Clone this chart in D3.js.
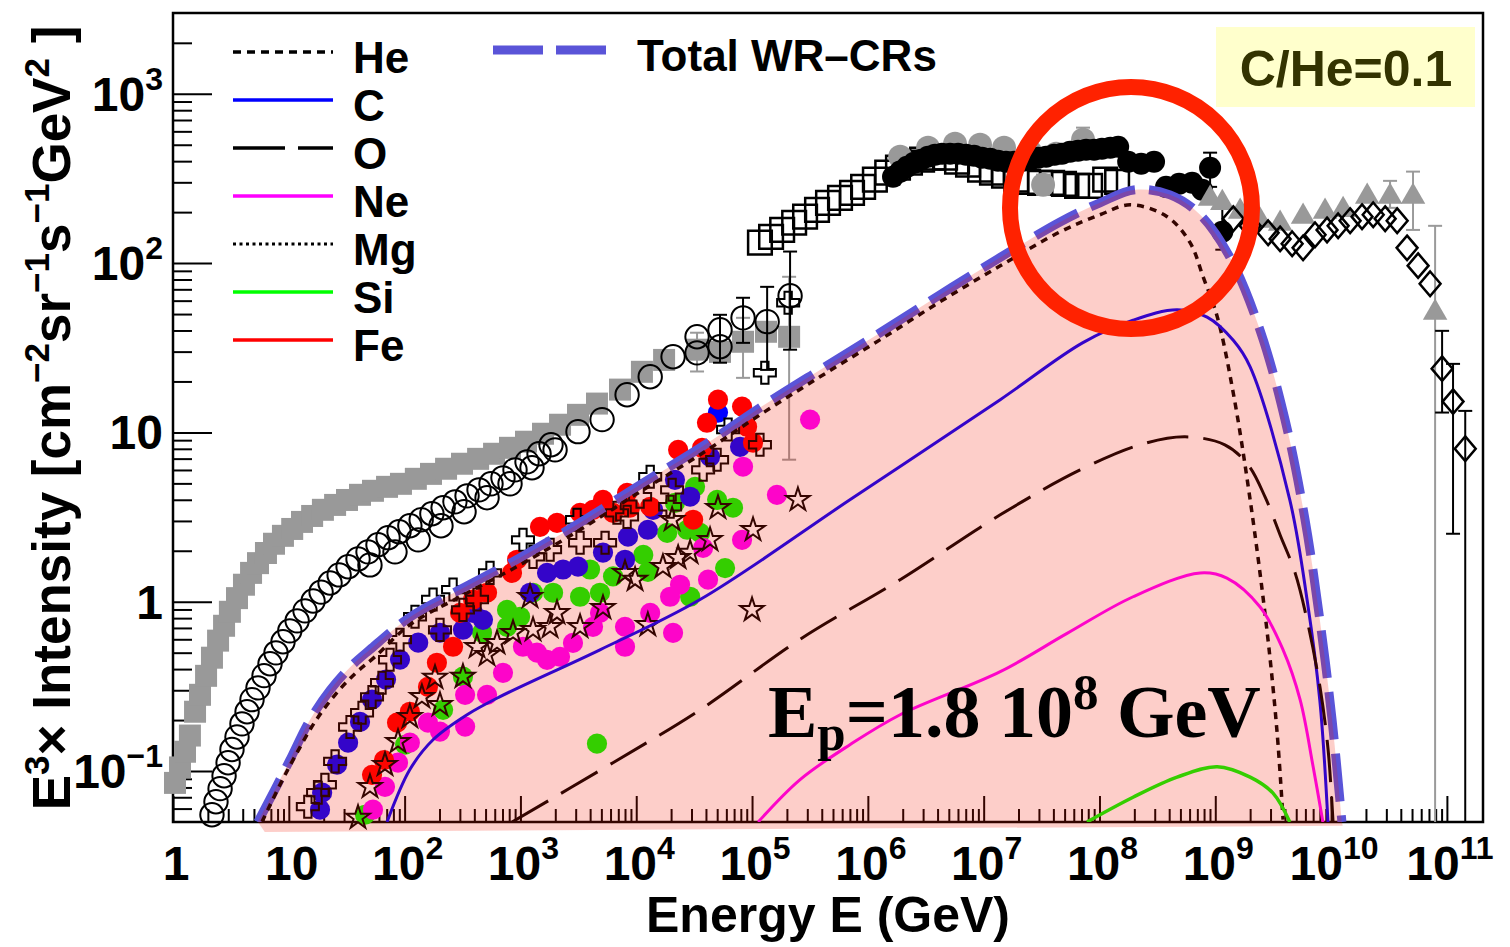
<!DOCTYPE html>
<html>
<head>
<meta charset="utf-8">
<script src="https://cdn.jsdelivr.net/npm/d3@7"></script>
<style>
  body { margin: 0; background: #fff; }
  text { white-space: pre; }
</style>
</head>
<body>
<svg id="chart" width="1510" height="947"></svg>
<script>
// ---------- model curves: [energy GeV, E^3 x intensity] ----------
const totalCurve = [[5.41,0.05],[7.6,0.078],[10.2,0.116],[15.2,0.20],[22.7,0.30],[33.8,0.41],[50,0.52],[111,0.81],[301,1.18],[993,1.82],[3270,2.93],[1.08e4,4.91],[3.56e4,8.1],[1.17e5,14.0],[3.86e5,23.4],[1.27e6,38.7],[4.2e6,65],[1.39e7,108],[4.57e7,175],[1.01e8,227],[2.03e8,271],[4.07e8,253],[7.4e8,193],[1.34e9,108],[2.44e9,40],[4.0e9,11.9],[5.96e9,3.05],[8.0e9,0.78],[1.02e10,0.20],[1.24e10,0.05]];
const fillBase = [[1.26e10,0.0475],[6.2,0.0437]];
const heCurve = [[5.87,0.0501],[8.4,0.083],[11.3,0.122],[16.8,0.195],[25.1,0.282],[37.3,0.376],[55.5,0.473],[111,0.731],[301,1.07],[993,1.65],[3270,2.66],[1.08e4,4.46],[3.56e4,7.38],[1.17e5,12.7],[3.86e5,21.3],[1.27e6,35.2],[4.2e6,59.1],[1.39e7,96.4],[4.57e7,153],[1.01e8,193],[1.84e8,221],[3.84e8,188],[6.06e8,132],[7.85e8,83],[1.04e9,48.2],[1.43e9,17.1],[2.0e9,4.0],[2.81e9,0.655],[3.42e9,0.168],[3.85e9,0.0516]];
const carbonCurve = [[70.5,0.05],[111,0.102],[176,0.153],[346,0.215],[667,0.275],[4860,0.52],[3.56e4,1.03],[7.0e5,4.0],[1.39e7,15.6],[7.2e7,33.9],[1.95e8,46],[4.68e8,53],[8.5e8,48],[1.43e9,35],[2.0e9,24.4],[4.4e9,4.0],[6.2e9,1.03],[8.0e9,0.26],[9.4e9,0.05]];
const oxygenCurve = [[846,0.05],[6300,0.112],[3.56e4,0.23],[2.6e5,0.60],[1.9e6,1.35],[1.39e7,3.26],[6.8e7,6.0],[2.24e8,8.45],[5.48e8,9.42],[1.21e9,8.45],[1.92e9,6.43],[2.69e9,4.16],[3.63e9,2.48],[4.89e9,1.48],[6.33e9,0.731],[8.04e9,0.31],[9.42e9,0.134],[1.04e10,0.05]];
const neonCurve = [[1.13e5,0.05],[2.6e5,0.089],[7.0e5,0.143],[1.9e6,0.215],[1.39e7,0.386],[5.25e7,0.65],[1.95e8,1.07],[7.4e8,1.48],[1.26e9,1.38],[2.44e9,0.93],[3.85e9,0.52],[5.4e9,0.264],[7.0e9,0.106],[8.5e9,0.05]];
const siliconCurve = [[7.8e7,0.05],[1.95e8,0.070],[4.68e8,0.092],[1.04e9,0.106],[2.0e9,0.092],[3.15e9,0.074],[4.4e9,0.05]];

// ---------- measurements: [energy GeV, E^3 x intensity] ----------
const grayBoxes = [[1.04,0.0851],[1.15,0.105],[1.27,0.130],[1.40,0.162],[1.55,0.224],[1.71,0.282],[1.93,0.365],[2.17,0.467],[2.45,0.589],[2.76,0.721],[3.10,0.872],[3.57,1.05],[4.10,1.26],[4.72,1.48],[5.42,1.69],[6.35,1.94],[7.45,2.20],[8.9,2.45],[10.7,2.69],[13.0,2.96],[15.9,3.21],[19.7,3.49],[25.1,3.73],[31.8,3.99],[41.2,4.28],[53.3,4.52],[70.5,4.77],[93,4.97],[125,5.32],[169,5.69],[228,6.10],[313,6.53],[431,6.98],[592,7.48],[813,8.11],[1117,8.81],[1567,9.82],[2198,11.1],[3141,12.7],[4581,14.8],[7244,17.9],[1.12e4,22.8],[1.74e4,26.8],[3.35e4,30.8],[5.29e4,29.9],[8.36e4,34.3],[1.32e5,39.3],[2.09e5,36.7]];
const grayBoxErrors = [[3.35e4,22.9,38.8],[8.36e4,21.0,47.5],[2.09e5,6.9,83]];

const openRings = [[2.17,0.0552],[2.35,0.0659],[2.55,0.0787],[2.76,0.0938],[2.99,0.112],[3.23,0.134],[3.57,0.159],[3.94,0.190],[4.36,0.224],[4.81,0.264],[5.42,0.310],[6.11,0.366],[6.88,0.430],[7.75,0.499],[8.91,0.580],[10.2,0.673],[11.8,0.771],[13.8,0.883],[16.2,1.01],[19.0,1.14],[22.7,1.29],[27.2,1.44],[32.5,1.61],[39.6,1.79],[48.3,1.97],[58.9,2.17],[71.9,2.39],[89.5,2.59],[111,2.81],[139,3.05],[172,3.31],[215,3.59],[272,3.89],[346,4.22],[439,4.58],[557,4.97],[707,5.39],[898,6.01],[1140,6.70],[1448,7.48],[1837,8.45]];
const openRingsHigh = [[50.2,1.65],[82.6,1.97],[131,2.32],[206,2.81],[326,3.40],[515,4.11],[813,4.97],[1259,6.18],[1991,7.89],[3141,10.1],[5070,11.9],[8337,16.7],[1.32e4,21.3],[2.08e4,28.0],[3.35e4,36.7],[3.35e4,29.5],[5.29e4,40.4],[5.29e4,32.1],[8.36e4,47.5],[1.35e5,45.1],[2.13e5,64.1]];
const openRingErrors = [[5.29e4,25.8,49.5],[8.36e4,33.8,62.4],[1.35e5,23.4,72.4],[2.13e5,30.8,117]];

const openBoxes = [[1.17e5,132],[1.46e5,143],[1.82e5,157],[2.31e5,173],[2.87e5,188],[3.64e5,206],[4.53e5,227],[5.75e5,243],[7.30e5,260],[9.1e5,282],[1.15e6,311],[1.47e6,342],[1.82e6,366],[2.31e6,392],[2.94e6,408],[3.66e6,419],[4.64e6,419],[5.89e6,397],[7.33e6,381],[9.31e6,356],[1.18e7,342],[1.50e7,328],[1.91e7,311],[2.42e7,302],[3.07e7,298],[3.90e7,298],[4.94e7,294],[6.41e7,286],[8.30e7,286],[1.12e8,311],[1.42e8,302]];

const grayRounds = [[1.90e6,425],[3.31e6,480],[5.66e6,507],[9.31e6,500],[1.50e7,480],[2.52e7,455],[4.22e7,443],[7.21e7,536],[3.26e7,290]];
const grayRoundErrors = [[7.21e7,455,631],[3.26e7,253,333]];

const blackDots = [[1.65e6,324],[1.90e6,347],[2.18e6,371],[2.51e6,392],[2.88e6,408],[3.31e6,425],[3.80e6,437],[4.37e6,443],[5.13e6,443],[6.01e6,443],[7.05e6,437],[8.26e6,431],[9.68e6,419],[1.14e7,413],[1.33e7,402],[1.56e7,397],[1.83e7,397],[2.15e7,402],[2.52e7,407],[2.95e7,419],[3.46e7,425],[4.06e7,437],[4.75e7,443],[5.57e7,455],[6.53e7,461],[7.66e7,467],[8.98e7,467],[1.05e8,473],[1.24e8,480],[1.45e8,486],[1.77e8,397],[2.29e8,386],[2.96e8,397],[3.76e8,282],[4.87e8,294],[6.31e8,298],[7.69e8,271],[9.02e8,366],[1.15e9,153]];
const blackDotErrors = [[9.02e8,282,449],[1.15e9,120,215]];

const grayTriangles = [[9.02e8,240],[1.15e9,227],[1.64e9,201],[2.44e9,178],[3.63e9,171],[5.73e9,188],[8.87e9,201],[1.27e10,206],[2.05e10,247],[3.23e10,247],[5.10e10,247],[7.91e10,50.9]];
const grayTriangleErrors = [[3.23e10,212,306],[5.10e10,157,347],[7.91e10,0.05,166]];

const openDiamonds = [[1.43e9,183],[2.0e9,166],[2.86e9,151],[3.63e9,139],[4.61e9,130],[5.73e9,123],[7.27e9,147],[9.23e9,157],[1.15e10,166],[1.46e10,178],[1.85e10,188],[2.31e10,193],[2.93e10,183],[3.72e10,178],[4.53e10,123],[5.64e10,96.6],[7.16e10,75.5],[9.09e10,23.8],[1.13e11,15.2],[1.44e11,8.01]];
const openDiamondErrors = [[9.09e10,13.1,39.8],[1.13e11,2.52,25.4],[1.44e11,0.05,13.4]];

const carbonData = [[18.6,0.0591],[19.4,0.0745],[26.1,0.109],[32.5,0.147],[41.2,0.195],[52.3,0.264],[69.1,0.347],[91.2,0.455],[131,0.573],[202,0.656],[319,0.683],[390,0.859],[475,0.782],[1211,1.13],[1698,1.48],[2333,1.55],[3141,1.61],[5164,1.95],[8000,1.77],[8492,2.42],[1.26e4,2.66],[1.40e4,3.49],[2.16e4,5.25],[2.92e4,4.17],[4.34e4,7.18],[5.08e4,13.1],[7.88e4,8.22]];
const ironData = [[52.3,0.095],[66.4,0.116],[86.0,0.193],[111,0.224],[159,0.314],[190,0.436],[262,0.542],[301,0.859],[390,1.03],[515,1.13],[846,1.48],[935,1.77],[1476,2.77],[2070,2.92],[3273,3.35],[4236,3.49],[5164,4.00],[6310,3.35],[8337,4.40],[8831,3.59],[1.32e4,3.64],[2.30e4,7.89],[3.10e4,3.05],[3.70e4,8.11],[4.08e4,11.4],[5.08e4,15.6],[8.20e4,14.2],[9.06e4,10.8],[1.02e5,8.69]];
const siliconData = [[45.5,0.0552],[101,0.143],[215,0.230],[319,0.361],[466,0.656],[766,0.895],[766,0.711],[993,0.815],[1285,1.13],[1914,1.13],[3273,1.07],[3990,1.55],[4866,1.13],[6310,1.41],[1.15e4,1.89],[1.26e4,1.50],[1.85e4,2.55],[2.16e4,3.84],[2.75e4,2.66],[2.92e4,1.07],[3.22e4,4.77],[3.56e4,2.55],[4.99e4,4.00],[5.85e4,1.58],[6.85e4,3.59],[4581,0.145]];
const neonData = [[53.3,0.0591],[67.7,0.0807],[87.7,0.112],[111,0.147],[159,0.193],[202,0.171],[333,0.183],[333,0.282],[515,0.282],[707,0.380],[1052,0.542],[1390,0.500],[1698,0.454],[2198,0.473],[2844,0.571],[4236,0.711],[4866,0.859],[8000,0.711],[8000,0.542],[1.32e4,0.859],[1.96e4,1.07],[2.08e4,0.655],[2.39e4,1.26],[3.78e4,2.08],[4.17e4,1.35],[8.20e4,2.32],[8.36e4,6.27],[1.64e5,4.28],[3.17e5,11.9]];
const oxygenData = [[14.6,0.0616],[17.9,0.0745],[20.5,0.083],[25.1,0.114],[33.8,0.182],[42.9,0.221],[52.3,0.274],[63.8,0.332],[74.8,0.454],[91.2,0.597],[123,0.815],[176,1.03],[202,0.682],[262,1.18],[319,0.895],[422,1.03],[546,1.48],[1052,2.32],[1285,1.84],[1803,2.03],[3083,3.05],[3273,2.23],[5383,2.23],[6823,3.35],[8337,3.17],[1.08e4,4.17],[1.32e4,5.47],[1.96e4,3.64],[2.04e4,4.58],[3.78e4,6.01],[4.99e4,6.89],[6.21e4,10.4],[1.17e5,8.45],[1.29e5,22.5],[2.05e5,58.3]];
const magnesiumData = [[39.6,0.0531],[50.2,0.0807],[67.7,0.109],[87.7,0.149],[111,0.209],[141,0.274],[183,0.356],[202,0.246],[319,0.361],[422,0.542],[515,0.486],[628,0.571],[863,0.656],[1211,1.07],[1285,0.682],[1803,0.711],[2070,0.859],[3273,0.711],[5164,0.920],[8000,1.48],[9772,1.35],[1.26e4,0.730],[1.70e4,1.61],[2.04e4,3.05],[2.30e4,1.82],[2.92e4,1.95],[4.34e4,2.32],[5.08e4,3.59],[1.00e5,0.895],[1.02e5,2.66],[2.49e5,4.00]];

// ---------- axis ticks ----------
const xMajorTicks = [1,1e1,1e2,1e3,1e4,1e5,1e6,1e7,1e8,1e9,1e10,1e11];
const xTickExponents = [null,null,"2","3","4","5","6","7","8","9","10","11"];
const yMajorTicks = [0.1,1,10,100,1000];
const yTickLabels = [["10","−1"],["1",null],["10",null],["10","2"],["10","3"]];

const legendNames = ["He","C","O","Ne","Mg","Si","Fe"];

// ---------- scales ----------
const svg = d3.select("#chart");
const x = d3.scaleLog().domain([1, 2.05e11]).range([173, 1483]);
const y = d3.scaleLog().domain([0.05, 3000]).range([822, 13]);

const sans = "'Liberation Sans', Arial, Helvetica, sans-serif";
const serif = "'Liberation Serif', 'Times New Roman', serif";

const defs = svg.append("defs");
defs.append("clipPath").attr("id", "plotClip").append("rect")
  .attr("x", 173).attr("y", 13).attr("width", 1310).attr("height", 809);
defs.append("clipPath").attr("id", "fillClip").append("rect")
  .attr("x", 173).attr("y", 13).attr("width", 1310).attr("height", 825);

// ---------- frame and ticks ----------
const xMinorTicks = [];
for (let n = 0; n <= 11; n++) for (let k = 2; k <= 9; k++) { const v = k * Math.pow(10, n); if (v < 2.0e11) xMinorTicks.push(v); }
const yMinorTicks = [];
for (let n = -2; n <= 3; n++) for (let k = 2; k <= 9; k++) { const v = k * Math.pow(10, n); if (v > 0.051 && v < 2900) yMinorTicks.push(v); }

const axesG = svg.append("g");
function drawAxis(gen, tr) {
  const g = axesG.append("g").attr("transform", tr).call(gen);
  g.select(".domain").remove();
  g.selectAll(".tick line").attr("stroke", "#000").attr("stroke-width", 2);
  g.selectAll(".tick text").remove();
}
drawAxis(d3.axisBottom(x).tickValues(xMinorTicks).tickSize(-13).tickFormat(""), "translate(0,822)");
drawAxis(d3.axisBottom(x).tickValues(xMajorTicks).tickSize(-26).tickFormat(""), "translate(0,822)");
drawAxis(d3.axisLeft(y).tickValues(yMinorTicks).tickSize(-19).tickFormat(""), "translate(173,0)");
drawAxis(d3.axisLeft(y).tickValues(yMajorTicks).tickSize(-39).tickFormat(""), "translate(173,0)");

svg.append("rect").attr("x", 173).attr("y", 13).attr("width", 1310).attr("height", 809)
  .attr("fill", "none").attr("stroke", "#000").attr("stroke-width", 2.5);

// rich text helper: parts = [[text, "sup"|"sub"|null], ...]
function rich(sel, parts, smallSize, raise, drop) {
  let cur = 0;
  parts.forEach(([t, kind]) => {
    const target = kind === "sup" ? -raise : kind === "sub" ? drop : 0;
    const ts = sel.append("tspan").attr("dy", target - cur).text(t);
    if (kind) ts.attr("font-size", smallSize);
    cur = target;
  });
}

// x tick labels
xMajorTicks.forEach((v, i) => {
  const t = svg.append("text").attr("x", x(v) + 3).attr("y", 880)
    .attr("text-anchor", "middle").attr("font-family", sans).attr("font-weight", "bold").attr("font-size", 48);
  const base = v === 1 ? "1" : "10";
  const parts = [[base, null]];
  if (xTickExponents[i]) parts.push([xTickExponents[i], "sup"]);
  rich(t, parts, 32, 21, 0);
});
// y tick labels
yMajorTicks.forEach((v, i) => {
  const t = svg.append("text").attr("x", 163).attr("y", y(v) + 17)
    .attr("text-anchor", "end").attr("font-family", sans).attr("font-weight", "bold").attr("font-size", 48);
  const [base, sup] = yTickLabels[i];
  const parts = [[base, null]];
  if (sup) parts.push([sup, "sup"]);
  rich(t, parts, 32, 21, 0);
});

// axis titles
svg.append("text").attr("x", 828).attr("y", 932).attr("text-anchor", "middle")
  .attr("font-family", sans).attr("font-weight", "bold").attr("font-size", 50)
  .text("Energy E (GeV)");
const yTitle = svg.append("text").attr("transform", "translate(70,418) rotate(-90)")
  .attr("text-anchor", "middle").attr("font-family", sans).attr("font-weight", "bold").attr("font-size", 53);
rich(yTitle, [["E",null],["3","sup"],["× Intensity [cm",null],["−2","sup"],["sr",null],["−1","sup"],["s",null],["−1","sup"],["GeV",null],["2","sup"],[" ]",null]], 35, 21, 0);

// ---------- markers ----------
const markG = svg.append("g");
const diamondShape = { draw(ctx, size) { const h = Math.sqrt(size) * 0.6, w = h * 0.85; ctx.moveTo(0, -h); ctx.lineTo(w, 0); ctx.lineTo(0, h); ctx.lineTo(-w, 0); ctx.closePath(); } };

function markers(data, type, size, fill, stroke, sw) {
  const path = d3.symbol().type(type).size(size)();
  markG.append("g").selectAll("path").data(data).join("path")
    .attr("d", path)
    .attr("transform", d => `translate(${x(d[0])},${y(d[1])})`)
    .attr("fill", fill).attr("stroke", stroke).attr("stroke-width", sw);
}
function errorBars(data, color) {
  const g = markG.append("g").attr("stroke", color).attr("stroke-width", 2).attr("fill", "none");
  data.forEach(([e, lo, hi]) => {
    const px = x(e), y0 = y(lo), y1 = y(hi);
    g.append("line").attr("x1", px).attr("x2", px).attr("y1", y0).attr("y2", y1);
    g.append("line").attr("x1", px - 7).attr("x2", px + 7).attr("y1", y1).attr("y2", y1);
    if (lo > 0.05) g.append("line").attr("x1", px - 7).attr("x2", px + 7).attr("y1", y0).attr("y2", y0);
  });
}

errorBars(grayBoxErrors, "#9a9a9a");
markers(grayBoxes, d3.symbolSquare, 484, "#999999", "none", 0);
errorBars(openRingErrors, "#000");
markers(openRings, d3.symbolCircle, 430, "none", "#000", 2);
markers(openRingsHigh, d3.symbolCircle, 430, "none", "#000", 2);
markers(openBoxes, d3.symbolSquare, 560, "none", "#000", 2.5);
errorBars(grayRoundErrors, "#9a9a9a");
markers(grayRounds, d3.symbolCircle, 450, "#999999", "none", 0);
errorBars(blackDotErrors, "#000");
markers(blackDots, d3.symbolCircle, 380, "#000", "none", 0);
errorBars(grayTriangleErrors, "#9a9a9a");
markers(grayTriangles, d3.symbolTriangle, 260, "#999999", "none", 0);
errorBars(openDiamondErrors, "#000");
markers(openDiamonds, diamondShape, 420, "none", "#000", 2.5);

markers(siliconData, d3.symbolCircle, 320, "#00ff00", "none", 0);
markers(neonData, d3.symbolCircle, 320, "#ff00ff", "none", 0);
markers(carbonData, d3.symbolCircle, 320, "#0000ff", "none", 0);
markers(ironData, d3.symbolCircle, 320, "#ff0000", "none", 0);
markers(oxygenData, d3.symbolCross, 270, "none", "#000", 2);
markers(magnesiumData, d3.symbolStar, 170, "none", "#000", 2);

// ---------- model curves ----------
const curveG = svg.append("g").attr("clip-path", "url(#plotClip)").attr("fill", "none");
const lineGen = d3.line().x(d => x(d[0])).y(d => y(d[1])).curve(d3.curveCatmullRom.alpha(0.5));

curveG.append("path").attr("d", lineGen(totalCurve))
  .attr("stroke", "#5a54d8").attr("stroke-width", 9).attr("stroke-dasharray", "48,14");
curveG.append("path").attr("d", lineGen(heCurve))
  .attr("stroke", "#000").attr("stroke-width", 3.5).attr("stroke-dasharray", "7,6");
curveG.append("path").attr("d", lineGen(carbonCurve))
  .attr("stroke", "#0000ff").attr("stroke-width", 3);
curveG.append("path").attr("d", lineGen(oxygenCurve))
  .attr("stroke", "#000").attr("stroke-width", 3).attr("stroke-dasharray", "42,15");
curveG.append("path").attr("d", lineGen(neonCurve))
  .attr("stroke", "#ff00ff").attr("stroke-width", 3);
curveG.append("path").attr("d", lineGen(siliconCurve))
  .attr("stroke", "#00ff00").attr("stroke-width", 3.5);

// translucent shading under the summed spectrum
const shadePath = lineGen(totalCurve) + fillBase.map(d => `L${x(d[0])},${y(d[1])}`).join("") + "Z";
svg.append("path").attr("d", shadePath).attr("clip-path", "url(#fillClip)")
  .attr("fill", "#f51900").attr("fill-opacity", 0.21).attr("stroke", "none");

// ---------- legend ----------
const legendStyle = {
  He: { color: "#000", dash: "8,6", width: 3.5 },
  C:  { color: "#0000ff", dash: null, width: 3.5 },
  O:  { color: "#000", dash: "52,13", width: 3.5 },
  Ne: { color: "#ff00ff", dash: null, width: 3.5 },
  Mg: { color: "#000", dash: "3,3.5", width: 3 },
  Si: { color: "#00ff00", dash: null, width: 3.5 },
  Fe: { color: "#ff0000", dash: null, width: 3.5 }
};
const legendY = d3.scalePoint().domain(legendNames).range([52, 340]);
const legG = svg.append("g");
legendNames.forEach(name => {
  const s = legendStyle[name], ly = legendY(name);
  legG.append("line").attr("x1", 233).attr("x2", 333).attr("y1", ly).attr("y2", ly)
    .attr("stroke", s.color).attr("stroke-width", s.width).attr("stroke-dasharray", s.dash);
  legG.append("text").attr("x", 353).attr("y", ly + 21)
    .attr("font-family", sans).attr("font-weight", "bold").attr("font-size", 44).text(name);
});
legG.append("line").attr("x1", 493).attr("x2", 610).attr("y1", 50).attr("y2", 50)
  .attr("stroke", "#5a54d8").attr("stroke-width", 9).attr("stroke-dasharray", "50,13");
legG.append("text").attr("x", 637).attr("y", 71)
  .attr("font-family", sans).attr("font-weight", "bold").attr("font-size", 44).text("Total WR–CRs");

// ---------- annotations ----------
svg.append("rect").attr("x", 1216).attr("y", 27).attr("width", 259).attr("height", 80).attr("fill", "#ffffcc");
svg.append("text").attr("x", 1346).attr("y", 86).attr("text-anchor", "middle")
  .attr("font-family", sans).attr("font-weight", "bold").attr("font-size", 50).attr("fill", "#333300")
  .text("C/He=0.1");

const ep = svg.append("text").attr("x", 768).attr("y", 737)
  .attr("font-family", serif).attr("font-weight", "bold").attr("font-size", 74);
rich(ep, [["E",null],["p","sub"],["=1.8 10",null],["8","sup"],[" GeV",null]], 51, 28, 13);

svg.append("circle").attr("cx", 1131).attr("cy", 208).attr("r", 121)
  .attr("fill", "none").attr("stroke", "#ff2200").attr("stroke-width", 16);
</script>
</body>
</html>
